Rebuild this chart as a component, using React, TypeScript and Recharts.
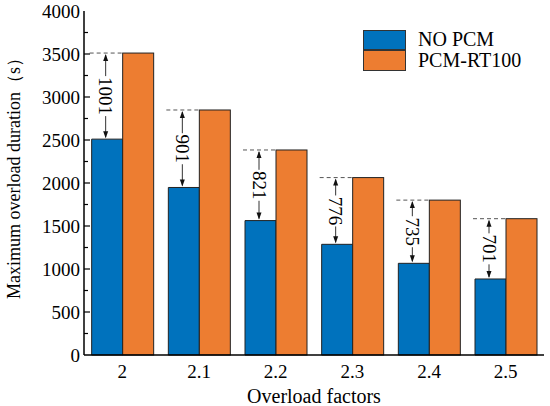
import React from "react";
import { BarChart, Bar, XAxis, YAxis } from "recharts";

const categories = ["2", "2.1", "2.2", "2.3", "2.4", "2.5"];
const noPcm = [2510, 1948, 1563, 1287, 1066, 884];
const pcmRt100 = [3511, 2849, 2384, 2063, 1801, 1585];
const gapLabels = ["1001", "901", "821", "776", "735", "701"];
const yTicks = [0, 250, 500, 750, 1000, 1250, 1500, 1750, 2000, 2250, 2500, 2750, 3000, 3250, 3500, 3750, 4000];
const seriesNames = ["NO PCM", "PCM-RT100"];

const BLUE = "#0072BD";
const ORANGE = "#ED7D31";
const FONT = "'Liberation Serif', 'Times New Roman', serif";

const data = categories.map((cat, i) => ({
  cat,
  noPcm: noPcm[i],
  pcm: pcmRt100[i],
  gap: gapLabels[i],
}));

function YTick(props: any) {
  const { x, y, payload } = props;
  const v = payload.value;
  const major = v % 500 === 0;
  const ax = x; // axis line position (tickSize 0, tickMargin 0)
  return (
    <g>
      {v !== 0 && v !== 4000 && (
        <line x1={ax} x2={ax + (major ? 6 : 4)} y1={y} y2={y} stroke="#000" strokeWidth={1.2} />
      )}
      {major && (
        <text x={ax - 4} y={y} textAnchor="end" dominantBaseline="central" fontSize={19} fontFamily={FONT} fill="#000">
          {v}
        </text>
      )}
    </g>
  );
}

function YLabel() {
  const cy = 174;
  const cx = 14;
  return (
    <text
      x={cx}
      y={cy}
      transform={`rotate(-90 ${cx} ${cy})`}
      textAnchor="middle"
      dominantBaseline="central"
      fontSize={18}
      fontFamily={FONT}
      fill="#000"
    >
      Maximum overload duration（s）
    </text>
  );
}

function PcmShape(props: any) {
  const { x, y, width, height, payload } = props;
  const k = height / payload.pcm;
  const yb = y + height - payload.noPcm * k;
  const bx = x - width;
  const ax = bx + 14;
  const mid = (y + yb) / 2;
  const len = payload.gap.length * 9 + 4;
  return (
    <g>
      <rect x={x} y={y} width={width} height={height} fill={ORANGE} stroke="#222" strokeWidth={1} />
      <line x1={bx - 2} x2={x} y1={y} y2={y} stroke="#555" strokeWidth={1} strokeDasharray="4 3" />
      <line x1={ax} x2={ax} y1={y + 2} y2={yb - 2} stroke="#333" strokeWidth={1} />
      <polygon points={`${ax},${y + 1} ${ax - 2.5},${y + 8} ${ax + 2.5},${y + 8}`} fill="#111" />
      <polygon points={`${ax},${yb - 1} ${ax - 2.5},${yb - 8} ${ax + 2.5},${yb - 8}`} fill="#111" />
      <rect x={ax - 7} y={mid - len / 2} width={14} height={len} fill="#fff" />
      <text
        x={ax}
        y={mid}
        transform={`rotate(90 ${ax} ${mid})`}
        textAnchor="middle"
        dominantBaseline="central"
        fontSize={19}
        fontFamily={FONT}
        fill="#000"
      >
        {payload.gap}
      </text>
    </g>
  );
}

function LegendBox() {
  const colors = [BLUE, ORANGE];
  return (
    <div style={{ position: "absolute", left: 363, top: 29 }}>
      {seriesNames.map((name, i) => (
        <div key={name} style={{ display: "flex", alignItems: "center", height: 21 }}>
          <div
            style={{
              width: 43,
              height: i === 0 ? 20 : 21,
              background: colors[i],
              border: "1px solid #333",
              boxSizing: "border-box",
              marginRight: 12,
            }}
          />
          <span style={{ fontSize: 20, color: "#000", fontFamily: FONT, lineHeight: "21px" }}>{name}</span>
        </div>
      ))}
    </div>
  );
}

export default function App() {
  return (
    <div style={{ position: "absolute", left: 0, top: 0, width: 550, height: 406, background: "#fff", fontFamily: FONT }}>
      <BarChart
        width={550}
        height={406}
        data={data}
        margin={{ top: 11, right: 6, left: 0, bottom: 0 }}
        barCategoryGap="10%"
        barGap={0}
        style={{ fontFamily: FONT }}
      >
        <XAxis
          dataKey="cat"
          tickLine={false}
          axisLine={{ stroke: "#000", strokeWidth: 1.5 }}
          tick={{ fontSize: 19, fill: "#000", fontFamily: FONT }}
          tickMargin={4}
          height={51}
          label={{ value: "Overload factors", position: "insideBottom", offset: 3, fontSize: 20, fill: "#000", fontFamily: FONT }}
        />
        <XAxis xAxisId="top" dataKey="cat" orientation="top" height={0} tick={false} tickLine={false} axisLine={{ stroke: "#000", strokeWidth: 1.5 }} />
        <YAxis
          domain={[0, 4000]}
          ticks={yTicks}
          interval={0}
          tickSize={0}
          tickMargin={0}
          width={84}
          axisLine={{ stroke: "#000", strokeWidth: 1.5 }}
          tick={<YTick />}
          label={<YLabel />}
        />
        <YAxis yAxisId="r" orientation="right" domain={[0, 4000]} width={0} tick={false} tickLine={false} axisLine={{ stroke: "#000", strokeWidth: 1.5 }} />
        <Bar dataKey="noPcm" name={seriesNames[0]} fill={BLUE} stroke="#222" strokeWidth={1} isAnimationActive={false} />
        <Bar dataKey="pcm" name={seriesNames[1]} fill={ORANGE} stroke="#222" strokeWidth={1} shape={<PcmShape />} isAnimationActive={false} />
      </BarChart>
      <LegendBox />
    </div>
  );
}
